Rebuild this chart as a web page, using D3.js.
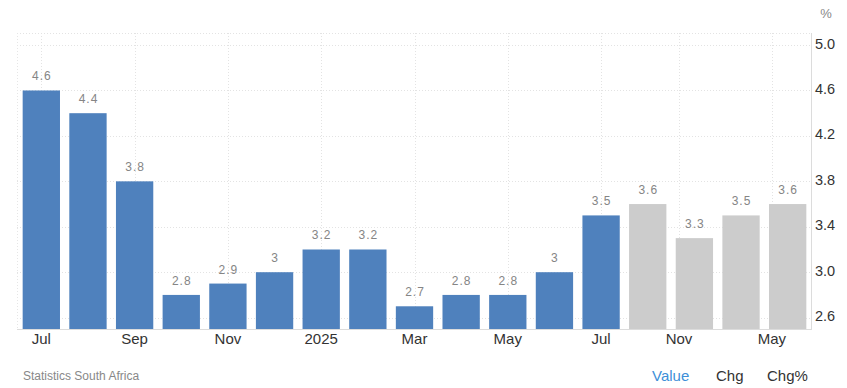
<!DOCTYPE html>
<html>
<head>
<meta charset="utf-8">
<script src="https://cdn.jsdelivr.net/npm/d3@7"></script>
<style>
  html, body { margin: 0; padding: 0; background: #fff; }
  svg { display: block; font-family: "Liberation Sans", Arial, sans-serif; }
</style>
</head>
<body>
<svg id="chart" width="847" height="388"></svg>
<script>
// ---- data ----
const periods = ["2024-07","2024-08","2024-09","2024-10","2024-11","2024-12",
                 "2025-01","2025-02","2025-03","2025-04","2025-05","2025-06","2025-07",
                 "2025-09","2025-12","2026-03","2026-06"];
const values  = [4.6, 4.4, 3.8, 2.8, 2.9, 3, 3.2, 3.2, 2.7, 2.8, 2.8, 3, 3.5,
                 3.6, 3.3, 3.5, 3.6];
const isForecast = [false,false,false,false,false,false,false,false,false,false,false,false,false,
                    true,true,true,true];
const tickDates  = ["2024-07","2024-09","2024-11","2025-01","2025-03","2025-05","2025-07","2025-11","2026-05"];
const tickLabels = ["Jul","Sep","Nov","2025","Mar","May","Jul","Nov","May"];
const yTicks = [2.6, 3.0, 3.4, 3.8, 4.2, 4.6, 5.0];
const unitLabel = "%";
const sourceText = "Statistics South Africa";
const footerItems = ["Value","Chg","Chg%"];

// ---- layout ----
const W = 847, H = 388;
const plot = { left: 17, right: 811, top: 33, bottom: 329 };
const svg = d3.select("#chart");

const x = d3.scaleBand().domain(periods).range([plot.left + 1, plot.right])
  .paddingInner(0.2).paddingOuter(0.1);
const y = d3.scaleLinear().domain([2.5, 5.106]).range([plot.bottom, plot.top]);

const parse = d3.timeParse("%Y-%m");
const pDates = periods.map(parse);
function ordinalPos(ds) {
  const t = parse(ds);
  for (let i = 0; i < pDates.length - 1; i++) {
    if (t >= pDates[i] && t <= pDates[i + 1]) {
      const f = (t - pDates[i]) / (pDates[i + 1] - pDates[i]);
      return x(periods[i]) + x.bandwidth() / 2 + f * x.step();
    }
  }
  return x(periods[periods.length - 1]) + x.bandwidth() / 2;
}
const tickPos = tickDates.map(ordinalPos);

// gridlines
const grid = svg.append("g");
grid.selectAll("line.h").data(yTicks).join("line")
  .attr("x1", plot.left).attr("x2", plot.right)
  .attr("y1", d => Math.round(y(d)) + 0.5).attr("y2", d => Math.round(y(d)) + 0.5)
  .attr("stroke", "#e3e3e3").attr("stroke-dasharray", "1,2");
grid.append("line").attr("x1", plot.left).attr("x2", plot.right)
  .attr("y1", plot.top + 0.5).attr("y2", plot.top + 0.5)
  .attr("stroke", "#e3e3e3").attr("stroke-dasharray", "1,2");
grid.selectAll("line.v").data(tickPos).join("line")
  .attr("x1", d => Math.round(d) + 0.5).attr("x2", d => Math.round(d) + 0.5)
  .attr("y1", plot.top).attr("y2", plot.bottom)
  .attr("stroke", "#e3e3e3").attr("stroke-dasharray", "1,2");
grid.append("line").attr("x1", plot.left + 0.5).attr("x2", plot.left + 0.5)
  .attr("y1", plot.top).attr("y2", plot.bottom)
  .attr("stroke", "#e6e6e6").attr("stroke-dasharray", "1,2");

// bars
svg.append("g").selectAll("rect").data(values).join("rect")
  .attr("x", (d, i) => x(periods[i]))
  .attr("width", x.bandwidth())
  .attr("y", d => y(d))
  .attr("height", d => plot.bottom - y(d))
  .attr("fill", (d, i) => isForecast[i] ? "#cccccc" : "#4f81bd");

// value labels
svg.append("g").selectAll("text").data(values).join("text")
  .attr("x", (d, i) => x(periods[i]) + x.bandwidth() / 2 + 0.5)
  .attr("y", d => y(d) - 10)
  .attr("text-anchor", "middle")
  .attr("font-size", 12).attr("letter-spacing", "1px")
  .attr("fill", "#858585")
  .text(d => String(d));

// axes lines
svg.append("line").attr("x1", plot.left).attr("x2", plot.right + 1)
  .attr("y1", plot.bottom + 0.5).attr("y2", plot.bottom + 0.5)
  .attr("stroke", "#dcdcdc");
svg.append("line").attr("x1", plot.right + 0.5).attr("x2", plot.right + 0.5)
  .attr("y1", plot.top).attr("y2", plot.bottom + 1)
  .attr("stroke", "#dcdcdc");

// y tick labels (right)
svg.append("g").selectAll("text").data(yTicks).join("text")
  .attr("x", plot.right + 4)
  .attr("y", d => y(d) + 3.5)
  .attr("font-size", 14.5)
  .attr("fill", "#333")
  .text(d => d3.format(".1f")(d));
svg.append("text").attr("x", 826).attr("y", 18)
  .attr("text-anchor", "middle").attr("font-size", 13).attr("fill", "#888")
  .text(unitLabel);

// x tick labels
svg.append("g").selectAll("text").data(tickLabels).join("text")
  .attr("x", (d, i) => tickPos[i])
  .attr("y", 344)
  .attr("text-anchor", "middle")
  .attr("font-size", 15)
  .attr("fill", "#333")
  .text(d => d);

// source
svg.append("text").attr("x", 23).attr("y", 380)
  .attr("font-size", 12).attr("fill", "#888").text(sourceText);

// footer items
const footerX = [652, 716, 767];
svg.append("g").selectAll("text").data(footerItems).join("text")
  .attr("x", (d, i) => footerX[i]).attr("y", 381)
  .attr("font-size", 15)
  .attr("fill", (d, i) => i === 0 ? "#3d8fd8" : "#333")
  .text(d => d);
</script>
</body>
</html>
